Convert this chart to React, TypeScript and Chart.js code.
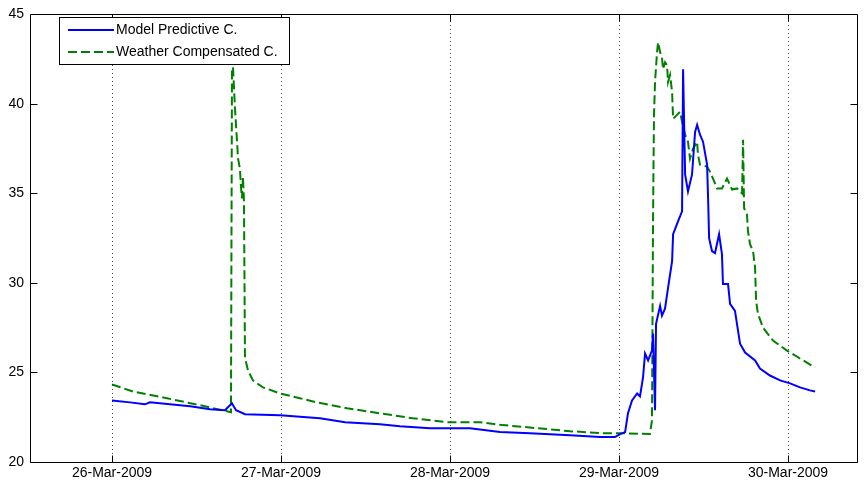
import React, { useEffect, useRef } from "react";
import { Chart, registerables } from "chart.js";

Chart.register(...registerables);

// x values are days since 26-Mar-2009 00:00
const tickDays = [0, 1, 2, 3, 4];
const tickLabels = ["26-Mar-2009", "27-Mar-2009", "28-Mar-2009", "29-Mar-2009", "30-Mar-2009"];
const yTickValues = [20, 25, 30, 35, 40, 45];
const seriesNames = ["Model Predictive C.", "Weather Compensated C."];

const mpcT = [
  0, 0.107, 0.195, 0.225, 0.343, 0.462, 0.58, 0.669, 0.686, 0.71, 0.734, 0.787, 0.994, 1.231, 1.379,
  1.586, 1.704, 1.882, 2.118, 2.296, 2.473, 2.71, 2.888, 2.976, 3.006, 3.036, 3.053, 3.077, 3.107,
  3.124, 3.142, 3.154, 3.172, 3.195, 3.201, 3.213, 3.219, 3.243, 3.254, 3.272, 3.29, 3.314, 3.32,
  3.349, 3.373, 3.379, 3.391, 3.408, 3.432, 3.45, 3.462, 3.479, 3.497, 3.521, 3.527, 3.533, 3.55,
  3.568, 3.592, 3.609, 3.615, 3.645, 3.657, 3.686, 3.716, 3.746, 3.805, 3.834, 3.893, 3.953, 4.012,
  4.071, 4.13, 4.16,
];
const mpcV = [
  23.44, 23.33, 23.22, 23.33, 23.22, 23.11, 22.94, 22.89, 23.06, 23.28, 22.89, 22.67, 22.61, 22.44,
  22.22, 22.11, 22.0, 21.89, 21.89, 21.67, 21.61, 21.5, 21.39, 21.39, 21.56, 21.67, 22.72, 23.44,
  23.83, 23.67, 24.72, 26.06, 25.67, 26.22, 27.17, 22.89, 27.72, 28.72, 28.17, 28.56, 29.72, 31.22,
  32.72, 33.44, 34.0, 41.94, 36.06, 35.11, 36.06, 38.44, 38.83, 38.28, 37.89, 36.61, 34.72, 32.5,
  31.78, 31.67, 32.72, 31.61, 29.94, 29.94, 28.83, 28.44, 26.61, 26.11, 25.67, 25.22, 24.83, 24.56,
  24.39, 24.17, 24.0, 23.94,
];

const wccT = [
  0, 0.124, 0.325, 0.521, 0.68, 0.704, 0.71, 0.716, 0.728, 0.74, 0.746, 0.757, 0.763, 0.769, 0.775,
  0.781, 0.787, 0.805, 0.834, 0.893, 0.994, 1.112, 1.213, 1.391, 1.586, 1.781, 1.982, 2.178, 2.314,
  2.515, 2.71, 2.905, 3.006, 3.183, 3.195, 3.201, 3.204, 3.207, 3.213, 3.225, 3.231, 3.243, 3.254,
  3.26, 3.272, 3.284, 3.29, 3.302, 3.314, 3.32, 3.343, 3.361, 3.373, 3.391, 3.408, 3.42, 3.438,
  3.462, 3.467, 3.479, 3.521, 3.538, 3.556, 3.58, 3.609, 3.639, 3.669, 3.698, 3.716, 3.728, 3.734,
  3.74, 3.757, 3.763, 3.775, 3.793, 3.805, 3.811, 3.822, 3.852, 3.911, 3.994, 4.071, 4.16,
];
const wccV = [
  24.33, 23.94, 23.56, 23.17, 22.83, 22.78, 41.89, 42.06, 39.72, 37.89, 36.94, 36.39, 35.39, 34.72,
  35.94, 34.56, 25.83, 25.11, 24.56, 24.17, 23.83, 23.56, 23.33, 23.0, 22.72, 22.44, 22.22, 22.22,
  22.06, 21.89, 21.72, 21.61, 21.61, 21.56, 22.33, 33.06, 36.61, 39.39, 41.22, 42.89, 43.44, 42.89,
  42.61, 41.94, 42.33, 42.17, 41.22, 41.61, 40.67, 39.17, 39.39, 39.56, 39.0, 38.28, 37.89, 36.94,
  37.5, 37.89, 37.17, 36.61, 36.5, 36.22, 35.83, 35.28, 35.28, 35.83, 35.22, 35.28, 35.11, 35.0,
  38.0, 34.17, 33.83, 32.89, 32.17, 31.78, 30.83, 29.0, 28.28, 27.5, 26.78, 26.22, 25.78, 25.28,
];

const FONT = '"Liberation Sans", Arial, sans-serif';

const framePlugin = {
  id: "matlabFrame",
  beforeDatasetsDraw(chart: any) {
    const { ctx, chartArea, scales } = chart;
    const xs = scales.x;
    ctx.save();
    ctx.strokeStyle = "#444";
    ctx.lineWidth = 1;
    ctx.setLineDash([1, 3]);
    for (const d of tickDays) {
      const px = Math.round(xs.getPixelForValue(d)) + 0.5;
      ctx.beginPath();
      ctx.moveTo(px, chartArea.bottom);
      ctx.lineTo(px, chartArea.top);
      ctx.stroke();
    }
    ctx.restore();
  },
  afterDatasetsDraw(chart: any) {
    const { ctx, chartArea, scales } = chart;
    const xs = scales.x;
    const ys = scales.y;
    const l = Math.round(chartArea.left) + 0.5;
    const r = Math.round(chartArea.right) + 0.5;
    const t = Math.round(chartArea.top) + 0.5;
    const b = Math.round(chartArea.bottom) + 0.5;
    const tl = 7;
    ctx.save();
    ctx.strokeStyle = "#000";
    ctx.lineWidth = 1;
    ctx.setLineDash([]);
    ctx.beginPath();
    ctx.rect(l, t, r - l, b - t);
    ctx.stroke();
    ctx.beginPath();
    for (const d of tickDays) {
      const px = Math.round(xs.getPixelForValue(d)) + 0.5;
      ctx.moveTo(px, b);
      ctx.lineTo(px, b - tl);
      ctx.moveTo(px, t);
      ctx.lineTo(px, t + tl);
    }
    for (const v of yTickValues) {
      const py = Math.round(ys.getPixelForValue(v)) + 0.5;
      ctx.moveTo(l, py);
      ctx.lineTo(l + tl, py);
      ctx.moveTo(r, py);
      ctx.lineTo(r - tl, py);
    }
    ctx.stroke();
    ctx.restore();
  },
  afterDraw(chart: any) {
    const { ctx } = chart;
    const bx = 59.5, by = 17.5, bw = 230, bh = 47;
    ctx.save();
    ctx.fillStyle = "#fff";
    ctx.fillRect(bx, by, bw, bh);
    ctx.strokeStyle = "#000";
    ctx.lineWidth = 1;
    ctx.strokeRect(bx, by, bw, bh);
    const rows = [30, 52];
    chart.data.datasets.forEach((ds: any, i: number) => {
      ctx.strokeStyle = ds.borderColor;
      ctx.lineWidth = 2;
      ctx.setLineDash(ds.borderDash || []);
      ctx.beginPath();
      ctx.moveTo(68, rows[i]);
      ctx.lineTo(114, rows[i]);
      ctx.stroke();
      ctx.setLineDash([]);
      ctx.fillStyle = "#000";
      ctx.font = `14px ${FONT}`;
      ctx.textBaseline = "middle";
      ctx.textAlign = "left";
      ctx.fillText(ds.label, 116, rows[i] + 0.5);
    });
    ctx.restore();
  },
};

export default function App() {
  const ref = useRef<HTMLCanvasElement | null>(null);
  useEffect(() => {
    document.body.style.margin = "0";
    if (!ref.current) return;
    const chart = new Chart(ref.current, {
      type: "line",
      data: {
        datasets: [
          {
            label: seriesNames[0],
            data: mpcT.map((x, i) => ({ x, y: mpcV[i] })),
            borderColor: "#0000ff",
            backgroundColor: "#0000ff",
            borderWidth: 2,
            pointRadius: 0,
            tension: 0,
            fill: false,
          },
          {
            label: seriesNames[1],
            data: wccT.map((x, i) => ({ x, y: wccV[i] })),
            borderColor: "#008000",
            backgroundColor: "#008000",
            borderWidth: 2,
            borderDash: [9, 4],
            pointRadius: 0,
            tension: 0,
            fill: false,
          },
        ],
      },
      options: {
        animation: false,
        responsive: false,
        maintainAspectRatio: false,
        layout: { padding: { top: 12, right: 8, left: 0, bottom: 0 } },
        plugins: { legend: { display: false }, tooltip: { enabled: false } },
        scales: {
          x: {
            type: "linear",
            min: -0.485,
            max: 4.408,
            afterBuildTicks: (s: any) => {
              s.ticks = tickDays.map((v) => ({ value: v }));
            },
            afterFit: (s: any) => {
              s.height = 22;
            },
            grid: { display: false, drawTicks: false },
            border: { display: false },
            ticks: {
              autoSkip: false,
              maxRotation: 0,
              padding: 3,
              color: "#000",
              font: { family: FONT, size: 14 },
              callback: (v: any) => tickLabels[tickDays.indexOf(Number(v))] ?? "",
            },
          },
          y: {
            type: "linear",
            min: 20,
            max: 45,
            afterBuildTicks: (s: any) => {
              s.ticks = yTickValues.map((v) => ({ value: v }));
            },
            afterFit: (s: any) => {
              s.width = 30;
            },
            grid: { display: false, drawTicks: false },
            border: { display: false },
            ticks: {
              padding: 6,
              color: "#000",
              font: { family: FONT, size: 14 },
            },
          },
        },
      },
      plugins: [framePlugin],
    } as any);
    return () => chart.destroy();
  }, []);
  return (
    <div style={{ width: 865, height: 484 }}>
      <canvas ref={ref} width={865} height={484} style={{ display: "block" }} />
    </div>
  );
}
